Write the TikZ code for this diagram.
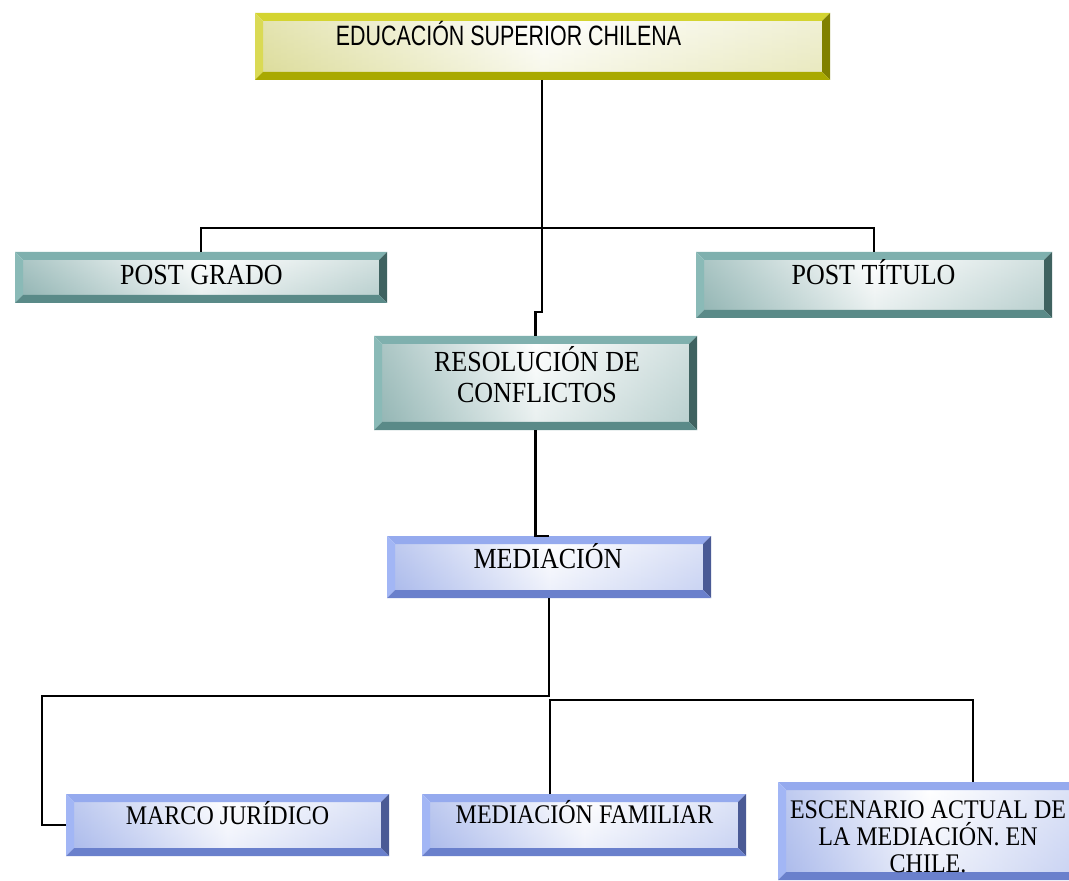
\documentclass[tikz,border=0pt]{standalone}
\usepackage{fontspec}
\setmainfont{Liberation Serif}
\newfontfamily\helv{Liberation Sans}
\definecolor{yTop}{HTML}{D4D430}
\definecolor{yLeft}{HTML}{DADA55}
\definecolor{yRight}{HTML}{808000}
\definecolor{yBot}{HTML}{A9A900}
\definecolor{yFace}{HTML}{D6D688}
\definecolor{tTop}{HTML}{7FB0AE}
\definecolor{tLeft}{HTML}{8ABAB7}
\definecolor{tRight}{HTML}{3F6260}
\definecolor{tBot}{HTML}{5A8A88}
\definecolor{tFace}{HTML}{7FA8A6}
\definecolor{bTop}{HTML}{95AAEE}
\definecolor{bLeft}{HTML}{A2B6F5}
\definecolor{bRight}{HTML}{4A5A95}
\definecolor{bBot}{HTML}{6A80CC}
\definecolor{bFace}{HTML}{9CAEE8}
\tikzset{
  bevelbox/.style n args={5}{rectangle, inner sep=0pt, outer sep=0pt,
    path picture={
      \path (path picture bounding box.south west) coordinate (pp-sw)
            (path picture bounding box.north east) coordinate (pp-ne)
            (path picture bounding box.north west) coordinate (pp-nw)
            (path picture bounding box.south east) coordinate (pp-se);
      \shade[left color=#5, right color=#5!55, middle color=white]
        ([shift={(4pt,4pt)}]pp-sw) rectangle ([shift={(-4pt,-4pt)}]pp-ne);
      \shade[top color=white, bottom color=#5!50, opacity=0.35]
        ([shift={(4pt,4pt)}]pp-sw) rectangle ([shift={(-4pt,-4pt)}]pp-ne);
      \fill[#1] (pp-nw) -- (pp-ne) -- ([shift={(-4pt,-4pt)}]pp-ne) -- ([shift={(4pt,-4pt)}]pp-nw) -- cycle;
      \fill[#2] (pp-nw) -- ([shift={(4pt,-4pt)}]pp-nw) -- ([shift={(4pt,4pt)}]pp-sw) -- (pp-sw) -- cycle;
      \fill[#3] (pp-ne) -- (pp-se) -- ([shift={(-4pt,4pt)}]pp-se) -- ([shift={(-4pt,-4pt)}]pp-ne) -- cycle;
      \fill[#4] (pp-sw) -- (pp-se) -- ([shift={(-4pt,4pt)}]pp-se) -- ([shift={(4pt,4pt)}]pp-sw) -- cycle;
    }},
  ybox/.style={bevelbox={yTop}{yLeft}{yRight}{yBot}{yFace}},
  tbox/.style={bevelbox={tTop}{tLeft}{tRight}{tBot}{tFace}},
  bbox/.style={bevelbox={bTop}{bLeft}{bRight}{bBot}{bFace}},
  tl/.style={inner sep=0pt, anchor=base, align=center, font=\fontsize{13}{15}\selectfont},
  ts/.style={inner sep=0pt, anchor=base, align=center, font=\fontsize{12}{14}\selectfont},
  conn/.style={draw=black, line width=1.2pt},
}
\newcommand{\tall}[1]{\scalebox{1}[1.12]{#1}}
\begin{document}
\begin{tikzpicture}[x=0.5pt, y=-0.5pt]
\useasboundingbox (0,0) rectangle (1069,881);
\clip (0,0) rectangle (1069,881);
\fill[white] (0,0) rectangle (1069,881);
% boxes
\node[ybox, minimum width=287.5pt, minimum height=33.5pt] (top) at (542.5,46.5) {};
\node[tbox, minimum width=186pt, minimum height=25.5pt] (pg) at (201,277.5) {};
\node[tbox, minimum width=178pt, minimum height=33pt] (pt) at (874,285) {};
\node[tbox, minimum width=161.5pt, minimum height=47pt] (rc) at (535.5,383) {};
\node[bbox, minimum width=162pt, minimum height=31pt] (med) at (549,567) {};
\node[bbox, minimum width=161.5pt, minimum height=31pt] (mj) at (227.5,825) {};
\node[bbox, minimum width=162pt, minimum height=31pt] (mf) at (584,825) {};
\node[bbox, minimum width=151pt, minimum height=49pt] (esc) at (929,831) {};
% texts
\node[inner sep=0pt, anchor=base] (ttop) at (508.5,46) {\fontsize{14}{16}\helv\scalebox{0.765}[1]{EDUCACIÓN SUPERIOR CHILENA}};
\node[tl] (tpg) at (201.5,285) {\tall{POST GRADO}};
\node[tl] (tpt) at (873.5,285) {\tall{POST TÍTULO}};
\node[tl] (trc) at (537,403) {\tall{RESOLUCIÓN DE}\\[0.6pt]\tall{CONFLICTOS}};
\node[tl] (tmed) at (548,568) {\tall{MEDIACIÓN}};
\node[ts] (tmj) at (227.5,824) {\tall{MARCO JURÍDICO}};
\node[ts] (tmf) at (584.5,823) {\tall{MEDIACIÓN FAMILIAR}};
\node[ts] (tesc) at (928,872) {\tall{ESCENARIO ACTUAL DE}\\[-0.5pt]\tall{LA MEDIACIÓN. EN}\\[-0.5pt]\tall{CHILE.}};
% connectors
\coordinate (bus1) at (542,228);
\coordinate (j1) at (542,312);
\coordinate (b1) at (549,696);
\coordinate (b1l) at (42,696);
\coordinate (b2) at (550,700);
\coordinate (b2r) at (973,700);
\draw[conn] (top.south -| bus1) -- (bus1) -| (pg.north);
\draw[conn] (bus1) -| (pt.north);
\draw[conn] (bus1) -- (j1) -| (rc.north);
\draw[conn] (rc.south) |- (med.north);
\draw[conn] (med.south) -- (b1) -- (b1l) |- (mj.west);
\draw[conn] (mf.north -| b2) -- (b2) -- (b2r) -- (esc.north -| b2r);
\end{tikzpicture}
\end{document}
